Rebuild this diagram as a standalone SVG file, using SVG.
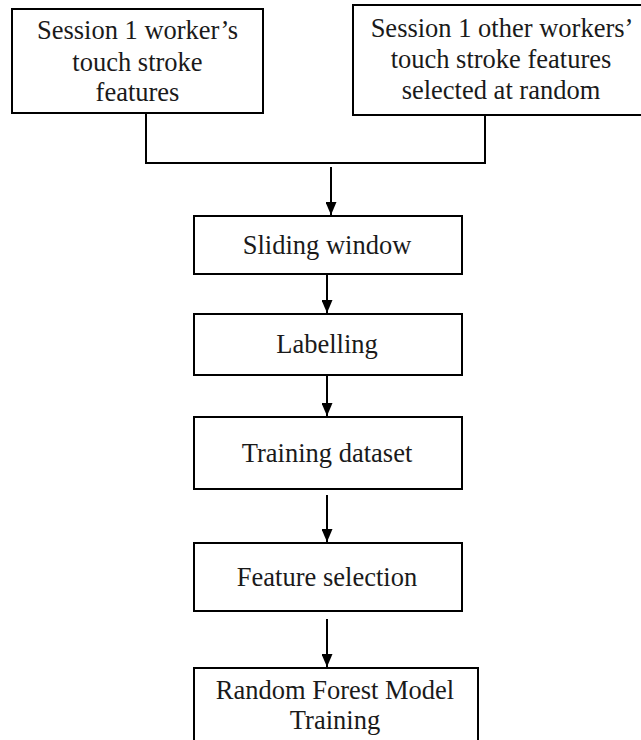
<svg xmlns="http://www.w3.org/2000/svg" width="641" height="740" viewBox="0 0 641 740">
<style>
.box{fill:#fff;stroke:#000;stroke-width:2}
.ln{fill:none;stroke:#000;stroke-width:2}
</style>
<defs>
<marker id="ah" viewBox="0 0 13 11" refX="13" refY="5.5" markerWidth="13" markerHeight="11" markerUnits="userSpaceOnUse" orient="auto">
<path d="M0,0 L13,5.5 L0,11 Z" fill="#000"/>
</marker>
</defs>
<rect width="641" height="740" fill="#fff"/>
<g id="connectors">
<polyline class="ln" points="146,113 146,163 485,163 485,115"/>
<line class="ln" x1="331" y1="167" x2="331" y2="215" marker-end="url(#ah)"/>
<line class="ln" x1="327" y1="275" x2="327" y2="313" marker-end="url(#ah)"/>
<line class="ln" x1="327" y1="376" x2="327" y2="416" marker-end="url(#ah)"/>
<line class="ln" x1="327" y1="495" x2="327" y2="542" marker-end="url(#ah)"/>
<line class="ln" x1="327" y1="619" x2="327" y2="667" marker-end="url(#ah)"/>
</g>
<g font-family="Liberation Serif" font-size="26.5" fill="#1a1a1a" text-anchor="middle">
<g id="n1">
<rect class="box" x="12" y="9" width="251" height="104"/>
<text x="137.5" y="39">Session 1 worker’s</text>
<text x="137.5" y="71">touch stroke</text>
<text x="137.5" y="101">features</text>
</g>
<g id="n2">
<rect class="box" x="353" y="5" width="296" height="110"/>
<text x="502" y="37">Session 1 other workers’</text>
<text x="501" y="68">touch stroke features</text>
<text x="501" y="99">selected at random</text>
</g>
<g id="n3">
<rect class="box" x="194" y="216" width="268" height="58"/>
<text x="327" y="254">Sliding window</text>
</g>
<g id="n4">
<rect class="box" x="194" y="314" width="268" height="61"/>
<text x="327" y="353">Labelling</text>
</g>
<g id="n5">
<rect class="box" x="194" y="417" width="268" height="72"/>
<text x="327" y="462">Training dataset</text>
</g>
<g id="n6">
<rect class="box" x="194" y="543" width="268" height="68"/>
<text x="327" y="586">Feature selection</text>
</g>
<g id="n7">
<rect class="box" x="194" y="668" width="284" height="90"/>
<text x="335" y="699">Random Forest Model</text>
<text x="335" y="729">Training</text>
</g>
</g>
</svg>
